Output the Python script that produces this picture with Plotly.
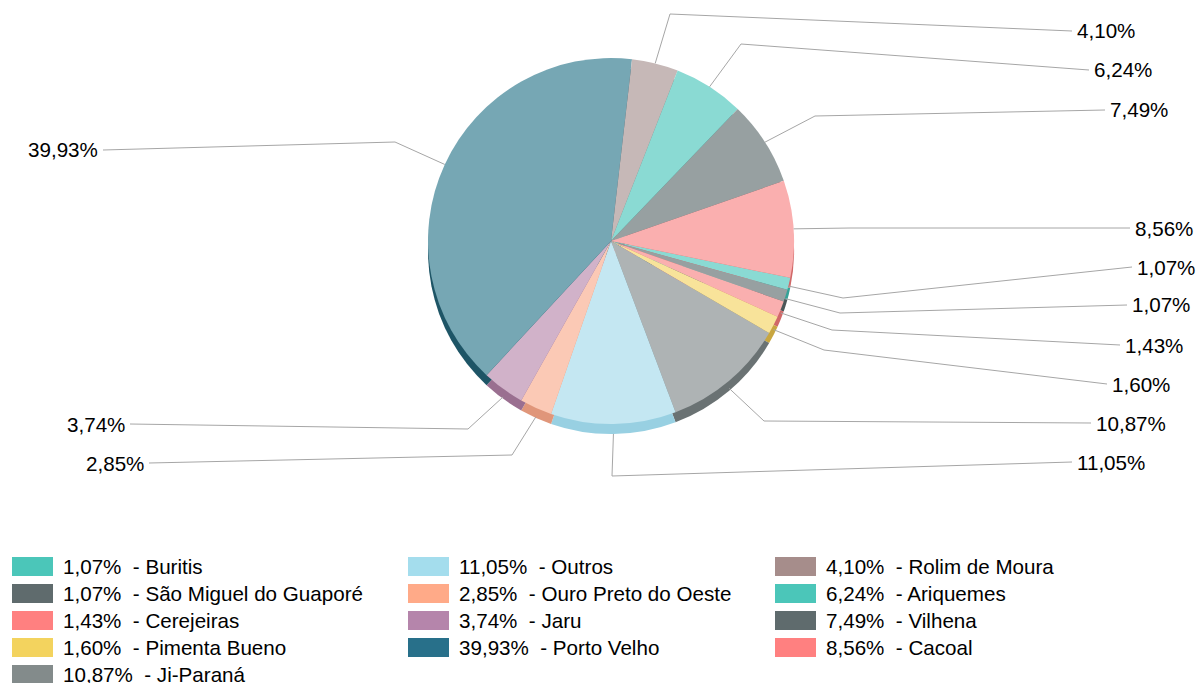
import math
import plotly.graph_objects as go

# ---------------- data ----------------
names = ["Buritis", "São Miguel do Guaporé", "Cerejeiras", "Pimenta Bueno", "Ji-Paraná",
         "Outros", "Ouro Preto do Oeste", "Jaru", "Porto Velho",
         "Rolim de Moura", "Ariquemes", "Vilhena", "Cacoal"]
values = [1.07, 1.07, 1.43, 1.60, 10.87,
          11.05, 2.85, 3.74, 39.93,
          4.10, 6.24, 7.49, 8.56]

# ---------------- styles ----------------
legend_colors = ["#4BC6B9", "#5F6B6D", "#FF8080", "#F3D35E", "#838B8B",
                 "#A4DDED", "#FFAA88", "#B585AB", "#28708A",
                 "#A68D8B", "#4BC6B9", "#5F6B6D", "#FF8080"]
face_colors = ["#8ADAD3", "#97A0A1", "#FAAFAF", "#F8E39A", "#AEB3B4",
               "#C4E7F2", "#FBC9B5", "#D1B2C9", "#76A7B4",
               "#C6B8B7", "#8ADAD3", "#97A0A1", "#FAAFAF"]
side_colors = ["#35A297", "#4C5658", "#D06868", "#C8A640", "#6A7273",
               "#98D0E2", "#E0967A", "#9A6F90", "#1E5566",
               "#8A7573", "#35A297", "#4C5658", "#D06868"]

W, H = 1199, 683
CX, CY, R = 611, 241, 183      # pie centre / radius in pixels
DEPTH = 10                     # 3D thickness in pixels
ROTATION = 101.6               # start angle of the first slice (deg, clockwise from 12 o'clock)

# leader-line elbows and label anchors (pixels), per slice, in data order
label_layout = [
    # (elbow_x, elbow_y, end_x, end_y, side)
    (843, 298, 1132, 267, "right"),
    (840, 313, 1127, 305, "right"),
    (832, 330, 1120, 345, "right"),
    (824, 350, 1107, 384, "right"),
    (764, 421, 1091, 423, "right"),
    (612, 476, 1072, 462, "right"),
    (512, 455, 149, 463, "left"),
    (468, 429, 130, 424, "left"),
    (395, 142, 103, 150, "left"),
    (670, 14, 1072, 31, "right"),
    (741, 44, 1089, 70, "right"),
    (815, 116, 1105, 110, "right"),
    (850, 228, 1130, 228, "right"),
]

FONT = "Liberation Sans, Arial, sans-serif"
FSIZE = 20.6


def px(x):
    return x / W


def py(y):
    return 1 - y / H


def fmt(v):
    return f"{v:.2f}".replace(".", ",") + "%"


fig = go.Figure()

# side (depth) of the pie: same pie shifted down, darker colours
fig.add_trace(go.Pie(
    values=values, labels=names, sort=False, direction="clockwise", rotation=ROTATION,
    marker=dict(colors=side_colors, line=dict(width=0)),
    textinfo="none", hoverinfo="skip", showlegend=False,
    domain=dict(x=[px(CX - R), px(CX + R)], y=[py(CY + DEPTH + R), py(CY + DEPTH - R)]),
))
# top face of the pie
fig.add_trace(go.Pie(
    values=values, labels=names, sort=False, direction="clockwise", rotation=ROTATION,
    marker=dict(colors=face_colors, line=dict(width=0)),
    textinfo="none", hoverinfo="skip", showlegend=False,
    domain=dict(x=[px(CX - R), px(CX + R)], y=[py(CY + R), py(CY - R)]),
))

shapes = []
annotations = []
total = sum(values)
cum = 0.0
for v, lay in zip(values, label_layout):
    mid = ROTATION + (cum + v / 2) / total * 360.0
    cum += v
    a = math.radians(mid)
    sx = CX + R * math.sin(a)
    sy = CY - R * math.cos(a)
    if math.cos(a) < 0:
        sy += DEPTH * (-math.cos(a))
    ex, ey, tx, ty, side = lay
    for (x0, y0, x1, y1) in [(sx, sy, ex, ey), (ex, ey, tx, ty)]:
        shapes.append(dict(type="line", xref="paper", yref="paper",
                           x0=px(x0), y0=py(y0), x1=px(x1), y1=py(y1),
                           line=dict(color="#A6A6A6", width=1)))
    annotations.append(dict(
        x=px(tx + (3 if side == "right" else -3)), y=py(ty), xref="paper", yref="paper",
        text=fmt(v), showarrow=False,
        xanchor="left" if side == "right" else "right", yanchor="middle",
        font=dict(family=FONT, size=FSIZE, color="#000000")))

# manual legend, 3 columns, filled column by column
col_x = [12, 408, 775]
rows_per_col = [5, 4, 4]
row_y0 = 566.5
row_step = 27
sw_w, sw_h = 41, 19
idx = 0
for c, nrows in enumerate(rows_per_col):
    for r in range(nrows):
        if idx >= len(names):
            break
        yc = row_y0 + r * row_step
        x0 = col_x[c]
        shapes.append(dict(type="rect", xref="paper", yref="paper",
                           x0=px(x0), x1=px(x0 + sw_w), y0=py(yc + sw_h / 2), y1=py(yc - sw_h / 2),
                           fillcolor=legend_colors[idx], line=dict(width=0)))
        annotations.append(dict(
            x=px(x0 + sw_w + 8), y=py(yc), xref="paper", yref="paper",
            text=fmt(values[idx]) + "\u00a0\u00a0- " + names[idx], showarrow=False,
            xanchor="left", yanchor="middle",
            font=dict(family=FONT, size=FSIZE, color="#000000")))
        idx += 1

fig.update_layout(
    width=W, height=H,
    margin=dict(l=0, r=0, t=0, b=0),
    paper_bgcolor="white", plot_bgcolor="white",
    showlegend=False,
    shapes=shapes, annotations=annotations,
)

fig.write_html("out.html", config={"displayModeBar": False},
               post_script="document.body.style.margin='0';document.body.style.overflow='hidden';")
